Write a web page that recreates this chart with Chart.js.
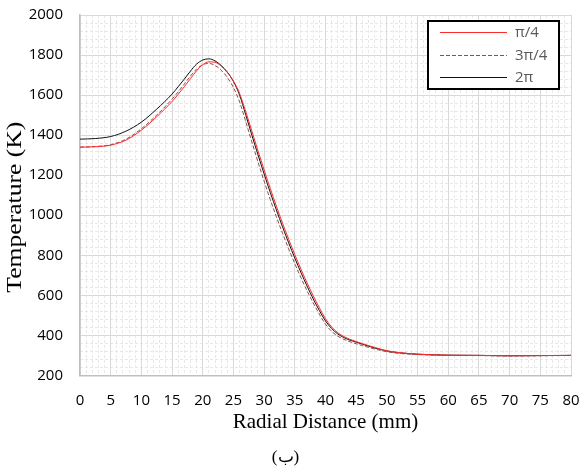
<!DOCTYPE html>
<html><head><meta charset="utf-8">
<script src="https://cdn.jsdelivr.net/npm/chart.js@4/dist/chart.umd.min.js"></script>
<style>html,body{margin:0;padding:0;background:#fff}</style>
</head><body>
<canvas id="c" width="580" height="468" style="display:block;width:580px;height:468px"></canvas>
<script>
// ---- data ----
const radialDistance = [0, 2.5, 5, 7.5, 10, 12.5,
  15, 16, 17, 18, 19, 20, 21, 22, 23, 24,
  25, 26, 27, 28, 29, 30, 31, 32, 33, 34,
  35, 36, 37, 38, 39, 40, 41, 42, 43, 44,
  45, 46, 47, 48, 49, 50,
  52, 55, 60, 65, 70, 75, 80];
const tempPi4 = [1340, 1342, 1350, 1375, 1425, 1492,
  1568, 1604, 1642, 1682, 1722, 1752, 1766, 1764, 1745, 1713,
  1670, 1608, 1518, 1420, 1322, 1226, 1134, 1045, 960, 880,
  803, 731, 662, 598, 538, 483, 442, 413, 394, 380,
  369, 359, 349, 340, 331, 323,
  314, 306, 301, 300, 298, 299, 300];
const temp3Pi4 = [1340, 1343, 1352, 1380, 1432, 1500,
  1580, 1616, 1655, 1695, 1730, 1752, 1758, 1748, 1725, 1688,
  1638, 1566, 1468, 1366, 1266, 1170, 1078, 992, 910, 832,
  758, 688, 622, 562, 506, 456, 420, 396, 380, 368,
  358, 349, 340, 332, 325, 318,
  310, 304, 300, 299, 297, 298, 300];
const temp2Pi = [1380, 1383, 1393, 1420, 1465, 1530,
  1605, 1642, 1680, 1720, 1755, 1775, 1781, 1771, 1748, 1715,
  1668, 1600, 1502, 1400, 1302, 1206, 1114, 1026, 942, 862,
  786, 714, 646, 582, 524, 472, 434, 407, 389, 376,
  366, 356, 346, 337, 329, 322,
  313, 306, 301, 300, 298, 299, 300];
const seriesLabels = ['π/4', '3π/4', '2π'];
const xTickStep = 5, yTickStep = 200;
const xRange = [0, 80], yRange = [200, 2000];
const xTitle = 'Radial Distance (mm)';
const yTitle = 'Temperature (K)';
const caption = '(ب)';

const toPts = arr => arr.map((v, i) => ({x: radialDistance[i], y: v}));

const legendPlugin = {
  id: 'boxLegend',
  afterDraw(chart) {
    const ctx = chart.ctx;
    const bx = 428, by = 21, bw = 131, bh = 68;
    ctx.save();
    ctx.fillStyle = '#fff';
    ctx.fillRect(bx, by, bw, bh);
    ctx.strokeStyle = '#000';
    ctx.lineWidth = 2;
    ctx.strokeRect(bx, by, bw, bh);
    const rows = [32, 55, 77];
    chart.data.datasets.forEach((ds, i) => {
      const y = rows[i];
      ctx.beginPath();
      ctx.strokeStyle = ds.borderColor;
      ctx.lineWidth = ds.borderWidth || 1;
      ctx.setLineDash(ds.borderDash || []);
      ctx.moveTo(440, y + 0.5);
      ctx.lineTo(507, y + 0.5);
      ctx.stroke();
      ctx.setLineDash([]);
      ctx.fillStyle = '#595959';
      ctx.font = '15px "Open Sans"';
      ctx.textBaseline = 'middle';
      ctx.textAlign = 'left';
      ctx.fillText(ds.label, 515, y + 1);
    });
    ctx.restore();
  }
};

// rotated y-axis title (stretched along its length like the reference)
const yTitlePlugin = {
  id: 'yTitle',
  afterDraw(chart) {
    const ctx = chart.ctx;
    const a = chart.chartArea;
    ctx.save();
    ctx.translate(16, (a.top + a.bottom) / 2 + 12);
    ctx.rotate(-Math.PI / 2);
    ctx.scale(1.28, 1);
    ctx.font = '20px "Liberation Serif"';
    ctx.fillStyle = '#000';
    ctx.textAlign = 'center';
    ctx.textBaseline = 'middle';
    ctx.fillText(yTitle, 0, 0);
    ctx.restore();
  }
};

new Chart(document.getElementById('c'), {
  type: 'line',
  data: {
    datasets: [
      {label: seriesLabels[0], data: toPts(tempPi4), borderColor: '#ff2a2a', borderWidth: 1},
      {label: seriesLabels[1], data: toPts(temp3Pi4), borderColor: '#8c5050', borderWidth: 1, borderDash: [4, 2]},
      {label: seriesLabels[2], data: toPts(temp2Pi), borderColor: '#111', borderWidth: 1}
    ]
  },
  options: {
    responsive: false,
    devicePixelRatio: 1,
    animation: false,
    layout: {padding: {top: 15, right: 9, left: 0, bottom: 0}},
    elements: {point: {radius: 0}, line: {cubicInterpolationMode: 'monotone', fill: false}},
    plugins: {
      legend: {display: false},
      tooltip: {enabled: false},
      title: {display: true, position: 'bottom', text: caption, color: '#000',
        font: {family: '"Liberation Serif"', size: 17, weight: 'normal'}, padding: {top: 13, bottom: 0}}
    },
    scales: {
      xMinor: {type: 'linear', position: 'bottom', min: xRange[0], max: xRange[1], z: -1,
        ticks: {display: false, stepSize: 1}, grid: {color: '#e8e8e8', drawTicks: false},
        border: {display: false, dash: [3, 2]}},
      yMinor: {type: 'linear', position: 'left', min: yRange[0], max: yRange[1], z: -1,
        ticks: {display: false, stepSize: 40}, grid: {color: '#e8e8e8', drawTicks: false},
        border: {display: false, dash: [3, 2]}},
      x: {type: 'linear', position: 'bottom', min: xRange[0], max: xRange[1],
        ticks: {stepSize: xTickStep, autoSkip: false, maxRotation: 0, padding: 0, color: '#000',
          font: {family: '"Open Sans"', size: 15}},
        grid: {color: '#d9d9d9', drawTicks: true, tickLength: 16, tickColor: 'rgba(0,0,0,0)'},
        border: {display: true, color: '#bfbfbf', width: 1.5},
        title: {display: true, text: xTitle, color: '#000', font: {family: '"Liberation Serif"', size: 21},
          padding: {top: 0, bottom: 0}}},
      y: {type: 'linear', position: 'left', min: yRange[0], max: yRange[1],
        ticks: {stepSize: yTickStep, padding: 0, color: '#000', format: {useGrouping: false},
          font: {family: '"Open Sans"', size: 15}},
        grid: {color: '#d9d9d9', drawTicks: true, tickLength: 17, tickColor: 'rgba(0,0,0,0)'},
        border: {display: true, color: '#bfbfbf', width: 1.5},
        title: {display: false},
        afterFit(s) { s.width = 80; }}
    }
  },
  plugins: [legendPlugin, yTitlePlugin]
});
</script>
</body></html>
